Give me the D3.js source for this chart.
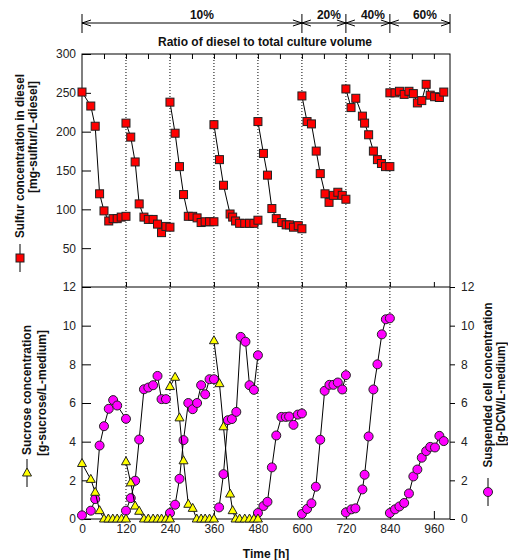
<!DOCTYPE html>
<html>
<head>
<meta charset="utf-8">
<script src="https://cdn.jsdelivr.net/npm/d3@7.9.0/dist/d3.min.js"></script>
<style>
  body { margin: 0; background: #fff; }
  svg { font-family: "Liberation Sans", Arial, sans-serif; }
  .tick text { font-size: 12px; fill: #222; }
  .bold { font-weight: bold; font-size: 12px; fill: #111; }
</style>
</head>
<body>
<svg id="chart" width="508" height="560"></svg>
<script>
// sulfur in diesel, one array per feeding cycle
const sulfurHours = [
  [0, 24, 36, 48, 60, 73, 85, 96, 107, 120],
  [120, 133, 145, 156, 169, 181, 194, 206, 217, 229, 240],
  [240, 254, 266, 277, 290, 302, 314, 325, 336, 348, 360],
  [360, 375, 386, 404, 411, 419, 430, 444, 457, 469, 480],
  [480, 495, 506, 518, 530, 545, 557, 566, 577, 590, 600],
  [600, 614, 626, 639, 650, 663, 674, 686, 698, 710, 720],
  [720, 734, 747, 765, 771, 782, 795, 806, 817, 828, 840],
  [840, 854, 866, 879, 892, 904, 915, 927, 939, 950, 962, 975, 987]
];
const sulfurValues = [
  [251, 233, 207, 120, 98, 85, 88, 88, 90, 91],
  [211, 193, 161, 107, 90, 87, 87, 81, 70, 78, 77],
  [238, 198, 155, 119, 91, 91, 89, 83, 84, 84, 84],
  [209, 164, 131, 94, 90, 85, 82, 82, 82, 82, 86],
  [213, 172, 144, 101, 88, 83, 80, 80, 77, 79, 75],
  [246, 213, 210, 175, 146, 120, 109, 118, 122, 118, 113],
  [255, 231, 243, 220, 211, 196, 175, 164, 159, 155, 155],
  [250, 250, 252, 248, 252, 249, 237, 240, 261, 247, 245, 244, 251]
];

// sucrose in medium
const sucroseHours = [
  [0, 24, 36, 48, 60, 72, 84, 96, 108, 120],
  [120, 133, 145, 156, 169, 181, 194, 206, 217, 229, 240],
  [240, 254, 266, 277, 290, 302, 313, 325, 336, 348, 360],
  [360, 375, 386, 404, 411, 419, 430, 444, 457, 469, 480]
];
const sucroseValues = [
  [2.87, 2.05, 1.38, 0.43, 0, 0, 0, 0, 0, 0],
  [2.96, 1.87, 0.67, 0.4, 0, 0, 0, 0, 0, 0, 0],
  [6.85, 7.33, 5.23, 3.01, 0.76, 0.55, 0, 0, 0, 0, 0],
  [9.22, 7.0, 4.77, 1.29, 0.43, 0, 0, 0, 0, 0, 0]
];

// suspended cells
const cellHours = [
  [0, 24, 36, 48, 60, 73, 85, 96, 120],
  [120, 133, 145, 156, 169, 181, 194, 206, 217, 229],
  [240, 254, 266, 277, 290, 302, 314, 325, 336, 348, 360],
  [374, 386, 398, 409, 421, 433, 446, 457, 469, 480],
  [480, 495, 506, 518, 530, 544, 556, 565, 577, 589, 600],
  [600, 614, 626, 638, 650, 662, 675, 686, 698, 710, 720],
  [720, 735, 746, 765, 771, 782, 795, 806, 818, 829, 840],
  [840, 854, 866, 879, 892, 904, 915, 927, 939, 950, 963, 975, 987]
];
const cellValues = [
  [0.19, 0.43, 1.03, 3.8, 4.8, 5.7, 6.15, 5.87, 5.18],
  [0.43, 1.08, 1.98, 4.11, 6.71, 6.8, 6.92, 7.4, 6.2, 6.2],
  [0.31, 0.74, 2.08, 4.08, 6.0, 5.68, 6.0, 6.92, 6.45, 7.23, 7.23],
  [0.6, 2.32, 5.11, 5.17, 5.54, 9.42, 9.17, 6.92, 6.68, 8.47],
  [0.31, 0.67, 0.89, 2.67, 4.32, 5.28, 5.28, 5.3, 4.87, 5.4, 5.46],
  [0.26, 0.52, 0.81, 1.67, 4.1, 6.63, 6.94, 6.94, 7.06, 6.7, 7.44],
  [0.34, 0.5, 0.55, 1.53, 2.29, 4.27, 6.7, 8.0, 9.55, 10.33, 10.38],
  [0.31, 0.5, 0.65, 0.83, 1.32, 2.2, 2.56, 3.17, 3.51, 3.73, 3.7, 4.3, 4.03]
];

const feedHours = [120, 240, 360, 480, 600, 720, 840];
const ratioBreaks = [0, 600, 720, 840, 1004];
const ratioLabels = ['10%', '20%', '40%', '60%'];
const xTicks = [0, 120, 240, 360, 480, 600, 720, 840, 960];
const sulfurTicks = [50, 100, 150, 200, 250, 300];
const conc_ticks = [0, 2, 4, 6, 8, 10, 12];

const svg = d3.select('#chart');

const x = d3.scaleLinear().domain([0, 1004]).range([82, 450]);
const yTop = d3.scaleLinear().domain([0, 300]).range([287, 54]);
const yBot = d3.scaleLinear().domain([0, 12]).range([519, 287]);

// frame
svg.append('rect')
  .attr('x', x(0)).attr('y', yTop(300))
  .attr('width', x(1004) - x(0)).attr('height', yBot(0) - yTop(300))
  .attr('fill', 'none').attr('stroke', '#000');
svg.append('line')
  .attr('x1', x(0)).attr('x2', x(1004))
  .attr('y1', yBot(12)).attr('y2', yBot(12))
  .attr('stroke', '#000');

// dotted feed lines
svg.selectAll('.feed')
  .data(feedHours)
  .join('line')
  .attr('x1', (d) => x(d)).attr('x2', (d) => x(d))
  .attr('y1', yTop(300)).attr('y2', yBot(0))
  .attr('stroke', '#000')
  .attr('stroke-dasharray', '1,2');

// axes
function styleAxis(g) {
  g.select('.domain').remove();
  g.selectAll('.tick line').attr('stroke', '#000');
}

svg.append('g')
  .attr('transform', `translate(${x(0)},0)`)
  .call(d3.axisLeft(yTop).tickValues(sulfurTicks).tickSize(-9).tickPadding(6))
  .call(styleAxis);

svg.append('g')
  .attr('transform', `translate(${x(0)},0)`)
  .call(d3.axisLeft(yBot).tickValues(conc_ticks).tickSize(-9).tickPadding(6))
  .call(styleAxis);

svg.append('g')
  .attr('transform', `translate(${x(1004)},0)`)
  .call(d3.axisRight(yBot).tickValues(conc_ticks).tickSize(5).tickPadding(6))
  .call(styleAxis);

svg.append('g')
  .attr('transform', `translate(0,${yBot(0)})`)
  .call(d3.axisBottom(x).tickValues(xTicks).tickSize(-8).tickPadding(5))
  .call(styleAxis);

svg.append('g')
  .attr('transform', `translate(0,${yTop(300)})`)
  .call(d3.axisTop(x).tickValues(d3.range(60, 1000, 60)).tickSize(-5).tickFormat(''))
  .call(styleAxis);

svg.append('g')
  .attr('transform', `translate(0,${yBot(12)})`)
  .call(d3.axisTop(x).tickValues(xTicks.slice(1)).tickSize(5).tickFormat(''))
  .call(styleAxis);

// series
const line = (xs, ys, yScale) =>
  d3.line()((xs.map((h, i) => [x(h), yScale(ys[i])])));

function drawSeries(hours, values, yScale, marker) {
  hours.forEach((hs, k) => {
    svg.append('path')
      .attr('d', line(hs, values[k], yScale))
      .attr('fill', 'none')
      .attr('stroke', '#000')
      .attr('stroke-width', 1);
  });
  hours.forEach((hs, k) => {
    hs.forEach((h, i) => marker(x(h), yScale(values[k][i])));
  });
}

function square(cx, cy) {
  svg.append('rect')
    .attr('x', cx - 4).attr('y', cy - 4)
    .attr('width', 8).attr('height', 8)
    .attr('fill', '#ff0000').attr('stroke', '#222').attr('stroke-width', 1);
}
function circle(cx, cy) {
  svg.append('circle')
    .attr('cx', cx).attr('cy', cy).attr('r', 4.5)
    .attr('fill', '#ff00ff').attr('stroke', '#222').attr('stroke-width', 1);
}
function triangle(cx, cy) {
  svg.append('path')
    .attr('d', `M${cx},${cy - 5}L${cx + 4.5},${cy + 3}L${cx - 4.5},${cy + 3}Z`)
    .attr('fill', '#ffff00').attr('stroke', '#222').attr('stroke-width', 1);
}

drawSeries(sulfurHours, sulfurValues, yTop, square);
drawSeries(cellHours, cellValues, yBot, circle);
drawSeries(sucroseHours, sucroseValues, yBot, triangle);

// ratio annotation
const arrowY = 23;
svg.append('line')
  .attr('x1', x(0)).attr('x2', x(1004))
  .attr('y1', arrowY).attr('y2', arrowY)
  .attr('stroke', '#000');
ratioBreaks.forEach((b) => {
  svg.append('line')
    .attr('x1', x(b)).attr('x2', x(b))
    .attr('y1', 14).attr('y2', 33)
    .attr('stroke', '#000');
});
ratioLabels.forEach((lab, i) => {
  const a = x(ratioBreaks[i]);
  const b = x(ratioBreaks[i + 1]);
  svg.append('path')
    .attr('d', `M${a + 9},${arrowY - 3}L${a},${arrowY}L${a + 9},${arrowY + 3}`
      + `M${b - 9},${arrowY - 3}L${b},${arrowY}L${b - 9},${arrowY + 3}`)
    .attr('fill', 'none').attr('stroke', '#000');
  svg.append('text')
    .attr('class', 'bold')
    .attr('x', (a + b) / 2 + (i === 0 ? 10 : 5))
    .attr('y', 19)
    .attr('text-anchor', 'middle')
    .text(lab);
});
svg.append('text')
  .attr('class', 'bold')
  .attr('x', 265).attr('y', 46)
  .attr('text-anchor', 'middle')
  .text('Ratio of diesel to total culture volume');

svg.append('text')
  .attr('class', 'bold')
  .attr('x', 266).attr('y', 558)
  .attr('text-anchor', 'middle')
  .text('Time [h]');

// rotated axis titles with legend keys
function sideTitle(lines, cx, keyY, marker) {
  lines.forEach(([txt, dx, cy, len]) => {
    const t = svg.append('text')
      .attr('class', 'bold')
      .attr('transform', `translate(${cx + dx},${cy}) rotate(-90)`)
      .attr('text-anchor', 'middle')
      .attr('dy', '0.35em')
      .text(txt);
    if (len) t.attr('textLength', len).attr('lengthAdjust', 'spacingAndGlyphs');
  });
  svg.append('line')
    .attr('x1', cx).attr('x2', cx)
    .attr('y1', keyY - 14).attr('y2', keyY + 14)
    .attr('stroke', '#000');
  marker(cx, keyY);
}

sideTitle([['Sulfur concentration in diesel', 0, 156, 164], ['[mg-sulfur/L-diesel]', 13, 137]],
  20, 258, square);
sideTitle([['Sucrose concentration', 0, 390], ['[g-sucrose/L-medium]', 15, 393]],
  27, 473, triangle);
sideTitle([['Suspended cell concentration', 0, 385, 165], ['[g-DCW/L-medium]', 13, 394, 104]],
  488, 492, circle);
</script>
</body>
</html>
